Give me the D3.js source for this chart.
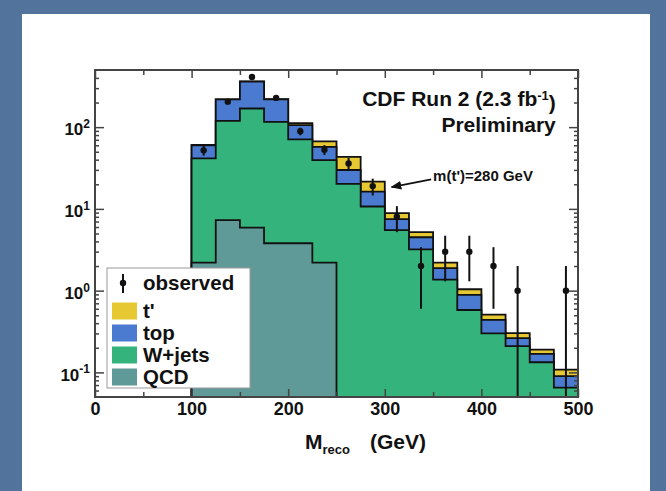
<!DOCTYPE html>
<meta charset="utf-8">
<script src="https://cdn.jsdelivr.net/npm/d3@7"></script>
<style>
body {margin: 0; background: #52739b;}
svg text {font-family: "Liberation Sans", Arial, Helvetica, sans-serif; font-weight: bold; fill: #111;}
</style>
<div id="vis"></div>
<script>
// bin edges (GeV), 25 GeV bins
var edges = [100,125,150,175,200,225,250,275,300,325,350,375,400,425,450,475,500];

// stacked contributions per bin
var qcd     = [2.2, 7.3, 5.9, 3.8, 3.8, 2.2, 0, 0, 0, 0, 0, 0, 0, 0, 0, 0];
var wjets   = [39.3, 111.7, 163.1, 112.2, 67.2, 37.4, 20.2, 10.7, 5.5, 3.2, 1.36, 0.58, 0.30, 0.21, 0.133, 0.065];
var topBkg  = [18.5, 99, 191, 102, 35, 17.9, 9.7, 5.6, 2.0, 1.3, 0.53, 0.31, 0.14, 0.052, 0.035, 0.025];
var tprime  = [0.5, 1, 2, 2, 6, 9.5, 13.5, 5.2, 1.4, 0.7, 0.31, 0.15, 0.07, 0.04, 0.022, 0.018];

var observed = [52, 205, 410, 228, 89, 53, 36, 19, 8, 2, 3, 3, 2, 1, 0, 1];
var obsErr   = [7.2, 14.3, 20.2, 15.1, 9.4, 7.3, 6, 4.4, 2.8, 1.4, 1.7, 1.7, 1.4, 1, 0, 1];

var xTicks = [0,100,200,300,400,500];
var xMinor = [50,150,250,350,450];
var yTicks = [0.1,1,10,100];
var yExp = ["-1","0","1","2"];

var colors = {tprime: "#e6c832", top: "#4a7bd0", wjets: "#34b47c", qcd: "#5f9a98"};

var width = 666, height = 491;
var svg = d3.select("#vis").append("svg")
    .attr("width", width).attr("height", height);

// slide background + white panel
svg.append("rect").attr("width", width).attr("height", height).attr("fill", "#52739b");
svg.append("rect").attr("x", 22).attr("y", 14).attr("width", 628).attr("height", 477).attr("fill", "#fff");

var x = d3.scaleLinear().domain([0, 500]).range([95, 578]);
var y = d3.scaleLog().domain([0.05, 500]).range([397, 70]).clamp(true);

// build rows for d3.stack
var rows = edges.slice(0, -1).map(function(e, i) {
  return {lo: e, qcd: qcd[i], wjets: wjets[i], top: topBkg[i], tprime: tprime[i]};
});
var stack = d3.stack().keys(["qcd", "wjets", "top", "tprime"]);
var series = stack(rows);

var area = d3.area()
    .curve(d3.curveStepAfter)
    .x(function(d) { return x(d.x); })
    .y0(y.range()[0])
    .y1(function(d) { return y(d.v); });

var plot = svg.append("g");

// draw cumulative histograms, outermost first
series.slice().reverse().forEach(function(s) {
  var pts = [];
  s.forEach(function(d, i) {
    if (d[1] > 0) pts.push({x: edges[i], v: d[1], i: i});
  });
  var last = pts[pts.length - 1];
  pts.push({x: edges[last.i + 1], v: last.v});
  plot.append("path")
      .datum(pts)
      .attr("d", area)
      .attr("fill", colors[s.key])
      .attr("stroke", "#111")
      .attr("stroke-width", 1.8)
      .attr("stroke-linejoin", "miter");
});

// observed data points
var centers = edges.slice(0, -1).map(function(e) { return e + 12.5; });
var obs = observed.map(function(n, i) { return {c: centers[i], n: n, e: obsErr[i]}; })
    .filter(function(d) { return d.n > 0; });

plot.selectAll("line.err").data(obs).enter().append("line")
    .attr("class", "err")
    .attr("x1", function(d) { return x(d.c); })
    .attr("x2", function(d) { return x(d.c); })
    .attr("y1", function(d) { return y(d.n + d.e); })
    .attr("y2", function(d) { return d.n - d.e > 0 ? y(d.n - d.e) : y.range()[0]; })
    .attr("stroke", "#111").attr("stroke-width", 2);
plot.selectAll("circle.obs").data(obs).enter().append("circle")
    .attr("class", "obs")
    .attr("cx", function(d) { return x(d.c); })
    .attr("cy", function(d) { return y(d.n); })
    .attr("r", 3.2).attr("fill", "#111");

// axes: ticks drawn inward
var tickColor = "#444";
function styleAxis(g) {
  g.select(".domain").remove();
  g.selectAll(".tick line").attr("stroke", tickColor).attr("stroke-width", 1.5);
}
var yMinor = [];
[0.01, 0.1, 1, 10, 100].forEach(function(dec) {
  for (var k = 2; k <= 9; k++) {
    var v = dec * k;
    if (v > 0.05 && v < 500) yMinor.push(v);
  }
});

svg.append("g").attr("transform", "translate(0,397)")
    .call(d3.axisBottom(x).tickValues(xTicks).tickSize(-8).tickPadding(5))
    .call(styleAxis)
    .selectAll("text").attr("font-size", 18).attr("fill", "#111");
svg.append("g").attr("transform", "translate(0,397)")
    .call(d3.axisBottom(x).tickValues(xMinor).tickSize(-5).tickFormat(""))
    .call(styleAxis);
svg.append("g").attr("transform", "translate(0,70)")
    .call(d3.axisTop(x).tickValues(xTicks).tickSize(-8).tickFormat(""))
    .call(styleAxis);
svg.append("g").attr("transform", "translate(0,70)")
    .call(d3.axisTop(x).tickValues(xMinor).tickSize(-5).tickFormat(""))
    .call(styleAxis);

var yAxis = svg.append("g").attr("transform", "translate(95,0)")
    .call(d3.axisLeft(y).tickValues(yTicks).tickSize(-9).tickPadding(5))
    .call(styleAxis);
yAxis.selectAll(".tick text").each(function(d, i) {
  var t = d3.select(this);
  t.text("10").attr("font-size", 17).attr("fill", "#111").attr("dy", "0.45em");
  t.append("tspan").attr("dy", "-0.6em").attr("font-size", 12).text(yExp[i]);
});
yAxis.selectAll(".tick text").attr("x", -5);
svg.append("g").attr("transform", "translate(95,0)")
    .call(d3.axisLeft(y).tickValues(yMinor).tickSize(-4).tickFormat(""))
    .call(styleAxis);
svg.append("g").attr("transform", "translate(578,0)")
    .call(d3.axisRight(y).tickValues(yTicks).tickSize(-9).tickFormat(""))
    .call(styleAxis);
svg.append("g").attr("transform", "translate(578,0)")
    .call(d3.axisRight(y).tickValues(yMinor).tickSize(-4).tickFormat(""))
    .call(styleAxis);

// frame
svg.append("rect")
    .attr("x", 95).attr("y", 70).attr("width", 483).attr("height", 327)
    .attr("fill", "none").attr("stroke", "#444").attr("stroke-width", 2);

// labels
svg.append("text").attr("x", x(477)).attr("y", 106).attr("text-anchor", "end")
    .attr("font-size", 21)
    .text("CDF Run 2 (2.3 fb")
  .call(function(t) {
    t.append("tspan").attr("dy", "-0.5em").attr("font-size", 13).text("-1");
    t.append("tspan").attr("dy", "0.5em").text(")");
  });
svg.append("text").attr("x", x(477)).attr("y", 132).attr("text-anchor", "end")
    .attr("font-size", 21).text("Preliminary");

svg.append("text").attr("x", x(350)).attr("y", y(25) + 5)
    .attr("font-size", 15)
    .text("m(t')=280 GeV");

svg.append("defs").append("marker")
    .attr("id", "arrow").attr("viewBox", "0 0 10 10")
    .attr("refX", 9).attr("refY", 5)
    .attr("markerWidth", 6).attr("markerHeight", 6)
    .attr("orient", "auto")
  .append("path").attr("d", "M0,1L10,5L0,9z").attr("fill", "#111");
svg.append("line")
    .attr("x1", x(348)).attr("y1", y(23))
    .attr("x2", x(307)).attr("y2", y(18.5))
    .attr("stroke", "#111").attr("stroke-width", 1.8)
    .attr("marker-end", "url(#arrow)");

// x title
var xt = svg.append("text").attr("x", 305).attr("y", 449).attr("font-size", 21);
xt.append("tspan").text("M");
xt.append("tspan").attr("font-size", 13).attr("dy", 5).text("reco");
xt.append("tspan").attr("x", 370).attr("dy", -5).text("(GeV)");

// legend
var legend = svg.append("g");
legend.append("rect").attr("x", 107).attr("y", 268).attr("width", 143).attr("height", 120)
    .attr("fill", "#fff").attr("stroke", "#999").attr("stroke-width", 1);

legend.append("line").attr("x1", 123).attr("x2", 123).attr("y1", 274).attr("y2", 293)
    .attr("stroke", "#111").attr("stroke-width", 2);
legend.append("circle").attr("cx", 123).attr("cy", 283).attr("r", 3.2).attr("fill", "#111");
legend.append("text").attr("x", 143).attr("y", 283).attr("dy", "0.35em").attr("font-size", 20.5).text("observed");

var legItems = [
  {key: "tprime", label: "t'"},
  {key: "top", label: "top"},
  {key: "wjets", label: "W+jets"},
  {key: "qcd", label: "QCD"}
];
var legY = d3.scalePoint().domain(legItems.map(function(d) { return d.key; })).range([311, 377]);
var li = legend.selectAll("g.item").data(legItems).enter().append("g").attr("class", "item");
li.append("rect")
    .attr("x", 112).attr("y", function(d) { return legY(d.key) - 8.5; })
    .attr("width", 25).attr("height", 17)
    .attr("fill", function(d) { return colors[d.key]; });
li.append("text")
    .attr("x", 143).attr("y", function(d) { return legY(d.key); })
    .attr("dy", "0.35em").attr("font-size", 20.5)
    .text(function(d) { return d.label; });
</script>
